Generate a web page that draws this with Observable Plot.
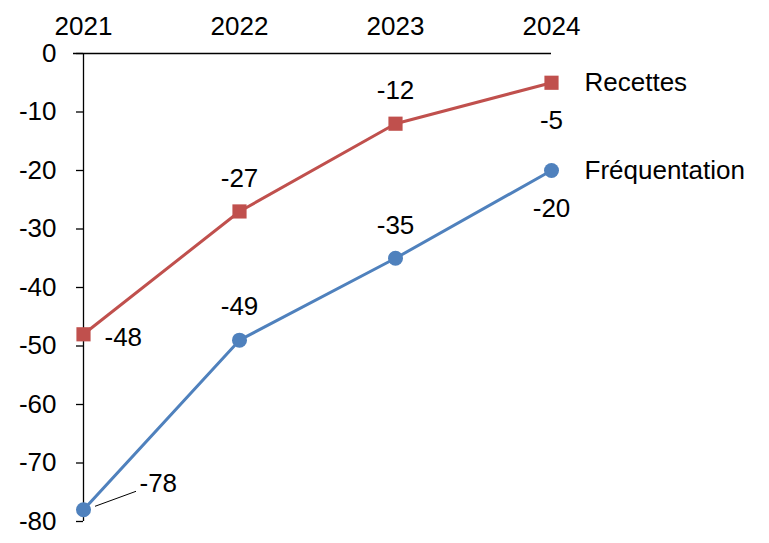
<!DOCTYPE html>
<html><head><meta charset="utf-8">
<script src="https://cdn.jsdelivr.net/npm/d3@7"></script>
<script src="https://cdn.jsdelivr.net/npm/@observablehq/plot@0.6"></script>
<style>body{margin:0;background:#fff}</style>
</head><body><div id="chart"></div>
<script>
const years = [2021, 2022, 2023, 2024];
const recettes = [-48, -27, -12, -5];
const frequentation = [-78, -49, -35, -20];
const seriesNames = ["Recettes", "Fréquentation"];
const yTicks = [0, -10, -20, -30, -40, -50, -60, -70, -80];

const red = "#C0504D", blue = "#4F81BD";
const font = "Liberation Sans, Arial, sans-serif";
const fs = 26;

const R = years.map((y, i) => ({year: y, value: recettes[i], i}));
const F = years.map((y, i) => ({year: y, value: frequentation[i], i}));
const fmt = d => String(d);

const chart = Plot.plot({
  width: 769, height: 543,
  marginLeft: 83, marginRight: 218, marginTop: 53, marginBottom: 22,
  x: {domain: [2021, 2024]},
  y: {domain: [-80, 0]},
  style: {fontFamily: font, fontSize: fs + "px", color: "#000", background: "#fff"},
  marks: [
    Plot.axisY({ticks: yTicks, tickFormat: fmt, tickSize: 7, tickPadding: 20, fontSize: fs, stroke: "#000", strokeWidth: 1.3, strokeOpacity: 1, label: null}),
    Plot.axisX({anchor: "top", ticks: years, tickFormat: fmt, tickSize: 0, tickPadding: 19, fontSize: fs, label: null}),
    Plot.ruleX([2021], {y1: -80, y2: 0, stroke: "#000", strokeWidth: 1.3}),
    Plot.ruleY([0], {x1: 2021, x2: 2024, insetLeft: -10, stroke: "#000", strokeWidth: 1.3}),
    Plot.line(R, {x: "year", y: "value", stroke: red, strokeWidth: 3}),
    Plot.line(F, {x: "year", y: "value", stroke: blue, strokeWidth: 3}),
    Plot.dot(R, {x: "year", y: "value", symbol: "square", r: 8, fill: red}),
    Plot.dot(F, {x: "year", y: "value", r: 7.5, fill: blue}),
    // Recettes labels
    Plot.text(R.filter(d => d.i === 0), {x: "year", y: "value", text: d => fmt(d.value), textAnchor: "start", dx: 21, dy: 3, fontSize: fs}),
    Plot.text(R.filter(d => d.i === 1 || d.i === 2), {x: "year", y: "value", text: d => fmt(d.value), dy: -33, fontSize: fs}),
    Plot.text(R.filter(d => d.i === 3), {x: "year", y: "value", text: d => fmt(d.value), dy: 38, fontSize: fs}),
    Plot.text(R.filter(d => d.i === 3), {x: "year", y: "value", text: () => seriesNames[0], textAnchor: "start", dx: 33, fontSize: fs}),
    // Fréquentation labels
    Plot.text(F.filter(d => d.i === 0), {x: "year", y: "value", text: d => fmt(d.value), textAnchor: "start", dx: 56, dy: -26, fontSize: fs}),
    Plot.text(F.filter(d => d.i === 1 || d.i === 2), {x: "year", y: "value", text: d => fmt(d.value), dy: -33, fontSize: fs}),
    Plot.text(F.filter(d => d.i === 3), {x: "year", y: "value", text: d => fmt(d.value), dy: 38, fontSize: fs}),
    Plot.text(F.filter(d => d.i === 3), {x: "year", y: "value", text: () => seriesNames[1], textAnchor: "start", dx: 33, fontSize: fs})
  ]
});

// leader line for the first Fréquentation label
const xs = chart.scale("x"), ys = chart.scale("y");
const px = xs.apply(years[0]), py = ys.apply(frequentation[0]);
d3.select(chart).append("line")
  .attr("x1", px + 12).attr("y1", py - 3)
  .attr("x2", px + 53).attr("y2", py - 18)
  .attr("stroke", "#000").attr("stroke-width", 1);

document.getElementById("chart").appendChild(chart);
</script>
</body></html>
